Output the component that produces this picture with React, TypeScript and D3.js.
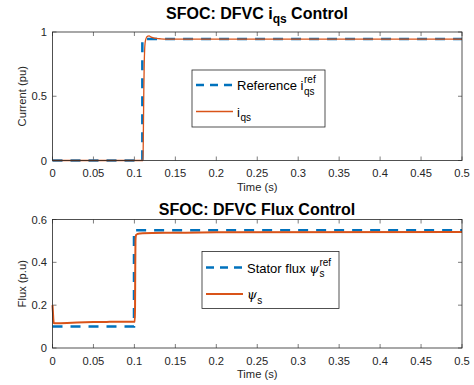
import React, { useEffect, useRef } from "react";
import * as d3 from "d3";

// ---------- data ----------
const xTicks = [0, 0.05, 0.1, 0.15, 0.2, 0.25, 0.3, 0.35, 0.4, 0.45, 0.5];
const iqsTicks = [0, 0.5, 1];
const fluxTicks = [0, 0.2, 0.4, 0.6];

const iqsRefT = [0, 0.1097, 0.1097, 0.5];
const iqsRefV = [0, 0, 0.945, 0.945];
const iqsT = [0, 0.1105, 0.111, 0.1115, 0.112, 0.1125, 0.113, 0.114, 0.115, 0.1165, 0.118, 0.12, 0.123, 0.127, 0.132, 0.14, 0.5];
const iqsV = [0, 0, 0.25, 0.55, 0.75, 0.86, 0.91, 0.945, 0.96, 0.968, 0.97, 0.962, 0.955, 0.95, 0.947, 0.945, 0.945];

const fluxRefT = [0, 0.0995, 0.0995, 0.5];
const fluxRefV = [0.1, 0.1, 0.55, 0.55];
const fluxT = [0, 0.0005, 0.001, 0.0015, 0.003, 0.01, 0.03, 0.05, 0.07, 0.1005, 0.1008, 0.101, 0.1013, 0.102, 0.104, 0.107, 0.11, 0.15, 0.2, 0.5];
const fluxV = [0.2, 0.17, 0.135, 0.117, 0.115, 0.116, 0.119, 0.121, 0.122, 0.123, 0.2, 0.35, 0.5, 0.527, 0.533, 0.535, 0.536, 0.538, 0.54, 0.542];

const BLUE = "#0072BD";
const ORANGE = "#D95319";
const AX = "#262626";
const FONT = "'Liberation Sans', Arial, Helvetica, sans-serif";

export default function App() {
  const ref = useRef<SVGSVGElement>(null);
  useEffect(() => {
    const svg = d3.select(ref.current);
    svg.selectAll("*").remove();

    const x = d3.scaleLinear().domain([0, 0.5]).range([52.5, 462]);

    function panel(opts: any) {
      const { top, bottom, yDomain, yTicks, yLabel, fmt } = opts;
      const y = d3.scaleLinear().domain(yDomain).range([bottom, top]);
      const g = svg.append("g");
      g.append("rect").attr("x", x(0)).attr("y", top).attr("width", x(0.5) - x(0)).attr("height", bottom - top).attr("fill", "white");
      const tl = 4;
      xTicks.forEach((t) => {
        g.append("line").attr("x1", x(t)).attr("x2", x(t)).attr("y1", bottom).attr("y2", bottom - tl).attr("stroke", AX).attr("stroke-width", 0.6);
        g.append("line").attr("x1", x(t)).attr("x2", x(t)).attr("y1", top).attr("y2", top + tl).attr("stroke", AX).attr("stroke-width", 0.6);
        g.append("text").attr("x", x(t)).attr("y", bottom + 16.5).attr("text-anchor", "middle")
          .attr("font-family", FONT).attr("font-size", 11.2).attr("fill", AX).text(String(t));
      });
      yTicks.forEach((t: number) => {
        g.append("line").attr("x1", x(0)).attr("x2", x(0) + tl).attr("y1", y(t)).attr("y2", y(t)).attr("stroke", AX).attr("stroke-width", 0.6);
        g.append("line").attr("x1", x(0.5)).attr("x2", x(0.5) - tl).attr("y1", y(t)).attr("y2", y(t)).attr("stroke", AX).attr("stroke-width", 0.6);
        g.append("text").attr("x", 47).attr("y", y(t) + 4).attr("text-anchor", "end")
          .attr("font-family", FONT).attr("font-size", 11.2).attr("fill", AX).text(fmt(t));
      });
      g.append("text").attr("x", (x(0) + x(0.5)) / 2).attr("y", bottom + 30).attr("text-anchor", "middle")
        .attr("font-family", FONT).attr("font-size", 11.2).attr("fill", AX).text("Time (s)");
      g.append("text").attr("transform", `translate(26,${(top + bottom) / 2}) rotate(-90)`).attr("text-anchor", "middle")
        .attr("font-family", FONT).attr("font-size", 11.2).attr("fill", AX).text(yLabel);
      return { g, y };
    }

    function drawLine(g: any, y: any, T: number[], V: number[], color: string, w: number, dash: string | null, curve: any) {
      const data = T.map((t, i) => [t, V[i]] as [number, number]);
      const line = d3.line<[number, number]>().x((d) => x(d[0])).y((d) => y(d[1])).curve(curve);
      const p = g.append("path").attr("d", line(data)).attr("fill", "none").attr("stroke", color).attr("stroke-width", w);
      if (dash) p.attr("stroke-dasharray", dash);
      return p;
    }

    function frame(g: any, top: number, bottom: number) {
      g.append("rect").attr("x", x(0)).attr("y", top).attr("width", x(0.5) - x(0)).attr("height", bottom - top)
        .attr("fill", "none").attr("stroke", AX).attr("stroke-width", 0.8);
    }

    // ---- top panel ----
    const T1 = 32, B1 = 160.5;
    const p1 = panel({ top: T1, bottom: B1, yDomain: [0, 1], yTicks: iqsTicks, yLabel: "Current (pu)", fmt: (v: number) => String(v) });
    drawLine(p1.g, p1.y, iqsRefT, iqsRefV, BLUE, 2.5, "10,8", d3.curveLinear);
    drawLine(p1.g, p1.y, iqsT, iqsV, ORANGE, 1.3, null, d3.curveMonotoneX);
    frame(p1.g, T1, B1);

    // ---- bottom panel ----
    const T2 = 219.5, B2 = 348;
    const p2 = panel({ top: T2, bottom: B2, yDomain: [0, 0.6], yTicks: fluxTicks, yLabel: "Flux (p.u)", fmt: (v: number) => String(v) });
    drawLine(p2.g, p2.y, fluxRefT, fluxRefV, BLUE, 2.5, "10,8", d3.curveLinear);
    drawLine(p2.g, p2.y, fluxT, fluxV, ORANGE, 2, null, d3.curveMonotoneX);
    frame(p2.g, T2, B2);

    // ---- titles ----
    function title(yb: number, parts: any[]) {
      const t = svg.append("text").attr("x", 257).attr("y", yb).attr("text-anchor", "middle")
        .attr("font-family", FONT).attr("font-weight", "bold").attr("font-size", 16).attr("fill", "black");
      parts.forEach((p) => {
        const s = t.append("tspan").text(p.text);
        if (p.sub) s.attr("font-size", 12).attr("dy", 4);
        if (p.back) s.attr("dy", -4);
      });
    }
    title(19, [{ text: "SFOC: DFVC i" }, { text: "qs", sub: true }, { text: " Control", back: true }]);
    title(214.5, [{ text: "SFOC: DFVC Flux Control" }]);

    // ---- legends ----
    function legend(bx: number, by: number, bw: number, bh: number, entries: any[]) {
      const g = svg.append("g");
      g.append("rect").attr("x", bx).attr("y", by).attr("width", bw).attr("height", bh).attr("fill", "white")
        .attr("stroke", AX).attr("stroke-width", 0.8);
      entries.forEach((e: any) => {
        const l = g.append("line").attr("x1", bx + 4).attr("x2", bx + 41).attr("y1", e.y).attr("y2", e.y)
          .attr("stroke", e.color).attr("stroke-width", e.w);
        if (e.dash) l.attr("stroke-dasharray", e.dash);
        const tx = bx + 45;
        const main = g.append("text").attr("x", tx).attr("y", e.y + 5).attr("font-family", FONT)
          .attr("font-size", 13).attr("fill", "black");
        main.append("tspan").text(e.text);
        if (e.sym) {
          main.append("tspan").attr("font-family", "'DejaVu Serif', serif").attr("font-style", "italic").attr("font-size", 12.5).text(e.sym);
        }
        const w = (main.node() as SVGTextElement).getComputedTextLength();
        if (e.sup) g.append("text").attr("x", tx + w + 0.5).attr("y", e.y - 2).attr("font-family", FONT).attr("font-size", 10).attr("fill", "black").text(e.sup);
        if (e.sub) g.append("text").attr("x", tx + w + 0.5).attr("y", e.y + 9.5).attr("font-family", FONT).attr("font-size", 10).attr("fill", "black").text(e.sub);
      });
    }
    legend(192, 70, 133, 57, [
      { y: 85, color: BLUE, w: 2.5, dash: "8,6", text: "Reference i", sup: "ref", sub: "qs" },
      { y: 111.5, color: ORANGE, w: 1.3, text: "i", sub: "qs" },
    ]);
    legend(202, 251.5, 137, 57, [
      { y: 267.5, color: BLUE, w: 2.5, dash: "8,6", text: "Stator flux ", sym: "ψ", sup: "ref", sub: "s" },
      { y: 294, color: ORANGE, w: 2, text: "", sym: "ψ", sub: "s" },
    ]);
  }, []);
  return (
    <svg ref={ref} width={474} height={385} style={{ position: "absolute", left: 0, top: 0, background: "white" }} />
  );
}
